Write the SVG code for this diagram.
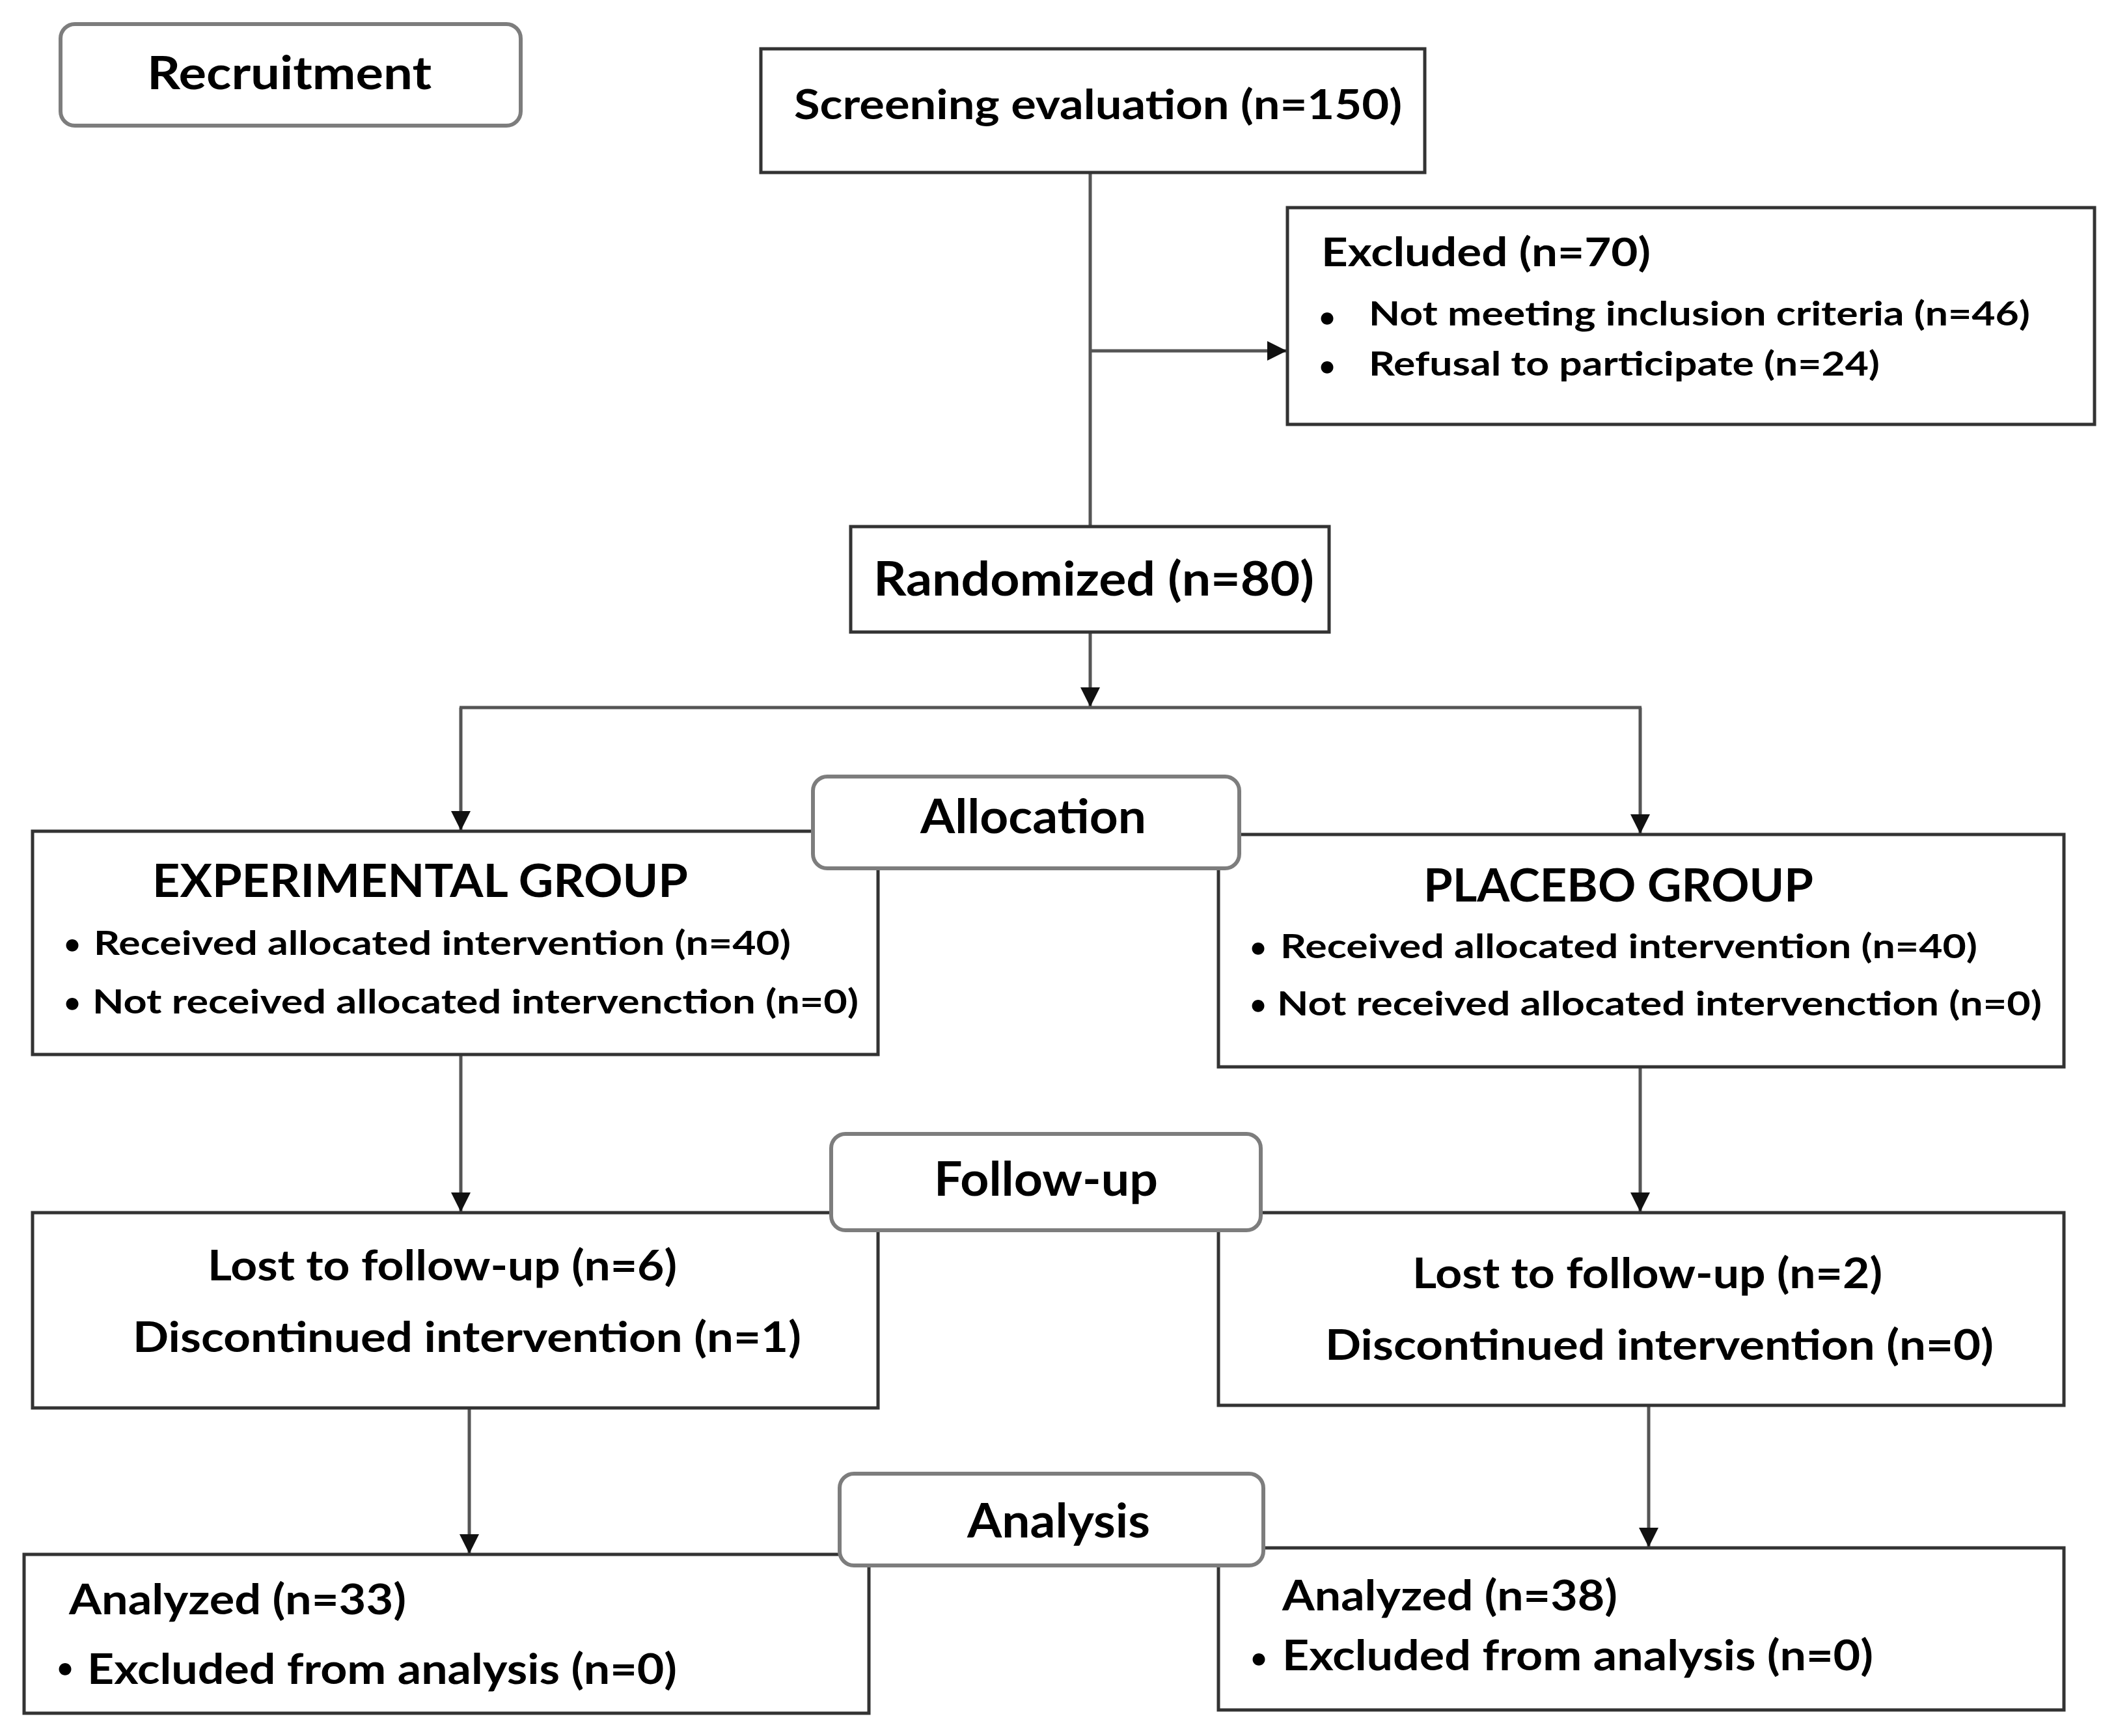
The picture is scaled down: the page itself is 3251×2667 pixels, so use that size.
<svg xmlns="http://www.w3.org/2000/svg" width="3251" height="2667" viewBox="0 0 3251 2667">
<style>
.box{fill:#ffffff;stroke:#333333;stroke-width:5}
.stage{fill:#ffffff;stroke:#7d7d7d;stroke-width:6}
.conn{fill:none;stroke:#555555;stroke-width:5}
.t{font-family:Lato,"Open Sans","Liberation Sans",sans-serif;font-weight:700;fill:#000000}
.b{font-family:"DejaVu Sans","Liberation Sans",sans-serif;font-weight:700;fill:#000000;text-anchor:middle}
</style>
<defs>
<marker id="arr" markerUnits="userSpaceOnUse" markerWidth="32" markerHeight="32" refX="30" refY="15" orient="auto" viewBox="0 0 32 32">
<path d="M0,0 L30,15 L0,30 z" fill="#111111"/>
</marker>
</defs>
<rect x="0" y="0" width="3251" height="2667" fill="#ffffff"/>
<g id="connectors">
<line class="conn" x1="1675" y1="265" x2="1675" y2="809"/>
<line class="conn" x1="1675" y1="539" x2="1977" y2="539" marker-end="url(#arr)"/>
<line class="conn" x1="1675" y1="971" x2="1675" y2="1086" marker-end="url(#arr)"/>
<line class="conn" x1="706" y1="1087" x2="2522" y2="1087"/>
<line class="conn" x1="708" y1="1087" x2="708" y2="1276" marker-end="url(#arr)"/>
<line class="conn" x1="2520" y1="1087" x2="2520" y2="1281" marker-end="url(#arr)"/>
<line class="conn" x1="708" y1="1620" x2="708" y2="1862" marker-end="url(#arr)"/>
<line class="conn" x1="2520" y1="1639" x2="2520" y2="1862" marker-end="url(#arr)"/>
<line class="conn" x1="721" y1="2163" x2="721" y2="2387" marker-end="url(#arr)"/>
<line class="conn" x1="2533" y1="2159" x2="2533" y2="2377" marker-end="url(#arr)"/>
</g>
<g id="screening">
<rect class="box" x="1169" y="75" width="1020" height="190"/>
<text class="t" x="1220" y="183" font-size="64" textLength="934" lengthAdjust="spacingAndGlyphs">Screening evaluation (n=150)</text>
</g>
<g id="excluded">
<rect class="box" x="1978" y="319" width="1240" height="333"/>
<text class="t" x="2030" y="409" font-size="61" textLength="506" lengthAdjust="spacingAndGlyphs">Excluded (n=70)</text>
<text class="b" x="2039" y="509" font-size="54">•</text>
<text class="t" x="2103" y="500" font-size="52" textLength="1016" lengthAdjust="spacingAndGlyphs">Not meeting inclusion criteria (n=46)</text>
<text class="b" x="2039" y="584" font-size="54">•</text>
<text class="t" x="2103" y="577" font-size="52" textLength="785" lengthAdjust="spacingAndGlyphs">Refusal to participate (n=24)</text>
</g>
<g id="randomized">
<rect class="box" x="1307" y="809" width="735" height="162"/>
<text class="t" x="1342" y="915" font-size="72" textLength="677" lengthAdjust="spacingAndGlyphs">Randomized (n=80)</text>
</g>
<g id="experimental">
<rect class="box" x="50" y="1277" width="1299" height="343"/>
<text class="t" x="234" y="1378" font-size="70" textLength="823" lengthAdjust="spacingAndGlyphs">EXPERIMENTAL GROUP</text>
<text class="b" x="111" y="1472" font-size="54">•</text>
<text class="t" x="144" y="1467" font-size="52" textLength="1071" lengthAdjust="spacingAndGlyphs">Received allocated intervention (n=40)</text>
<text class="b" x="111" y="1562" font-size="54">•</text>
<text class="t" x="142" y="1557" font-size="52" textLength="1177" lengthAdjust="spacingAndGlyphs">Not received allocated intervenction (n=0)</text>
</g>
<g id="placebo">
<rect class="box" x="1872" y="1282" width="1299" height="357"/>
<text class="t" x="2187" y="1385" font-size="70" textLength="599" lengthAdjust="spacingAndGlyphs">PLACEBO GROUP</text>
<text class="b" x="1933" y="1477" font-size="54">•</text>
<text class="t" x="1967" y="1472" font-size="52" textLength="1071" lengthAdjust="spacingAndGlyphs">Received allocated intervention (n=40)</text>
<text class="b" x="1933" y="1565" font-size="54">•</text>
<text class="t" x="1962" y="1560" font-size="52" textLength="1175" lengthAdjust="spacingAndGlyphs">Not received allocated intervenction (n=0)</text>
</g>
<g id="lost-left">
<rect class="box" x="50" y="1863" width="1299" height="300"/>
<text class="t" x="319" y="1967" font-size="65" textLength="721" lengthAdjust="spacingAndGlyphs">Lost to follow-up (n=6)</text>
<text class="t" x="204" y="2077" font-size="65" textLength="1027" lengthAdjust="spacingAndGlyphs">Discontinued intervention (n=1)</text>
</g>
<g id="lost-right">
<rect class="box" x="1872" y="1863" width="1299" height="296"/>
<text class="t" x="2170" y="1979" font-size="65" textLength="722" lengthAdjust="spacingAndGlyphs">Lost to follow-up (n=2)</text>
<text class="t" x="2036" y="2089" font-size="65" textLength="1027" lengthAdjust="spacingAndGlyphs">Discontinued intervention (n=0)</text>
</g>
<g id="analyzed-left">
<rect class="box" x="37" y="2388" width="1298" height="244"/>
<text class="t" x="106" y="2480" font-size="65" textLength="518" lengthAdjust="spacingAndGlyphs">Analyzed (n=33)</text>
<text class="b" x="100" y="2584" font-size="54">•</text>
<text class="t" x="134" y="2587" font-size="65" textLength="906" lengthAdjust="spacingAndGlyphs">Excluded from analysis (n=0)</text>
</g>
<g id="analyzed-right">
<rect class="box" x="1872" y="2378" width="1299" height="249"/>
<text class="t" x="1970" y="2474" font-size="65" textLength="515" lengthAdjust="spacingAndGlyphs">Analyzed (n=38)</text>
<text class="b" x="1934" y="2569" font-size="54">•</text>
<text class="t" x="1970" y="2566" font-size="65" textLength="908" lengthAdjust="spacingAndGlyphs">Excluded from analysis (n=0)</text>
</g>
<g id="recruitment">
<rect class="stage" x="93" y="37" width="707" height="156" rx="22" ry="22"/>
<text class="t" x="226" y="137" font-size="70" textLength="437" lengthAdjust="spacingAndGlyphs">Recruitment</text>
</g>
<g id="allocation">
<rect class="stage" x="1249" y="1193" width="655" height="141" rx="22" ry="22"/>
<text class="t" x="1414" y="1280" font-size="72" textLength="347" lengthAdjust="spacingAndGlyphs">Allocation</text>
</g>
<g id="follow-up">
<rect class="stage" x="1277" y="1742" width="660" height="148" rx="22" ry="22"/>
<text class="t" x="1435" y="1837" font-size="72" textLength="344" lengthAdjust="spacingAndGlyphs">Follow-up</text>
</g>
<g id="analysis">
<rect class="stage" x="1290" y="2264" width="651" height="141" rx="22" ry="22"/>
<text class="t" x="1486" y="2362" font-size="72" textLength="281" lengthAdjust="spacingAndGlyphs">Analysis</text>
</g>
</svg>
